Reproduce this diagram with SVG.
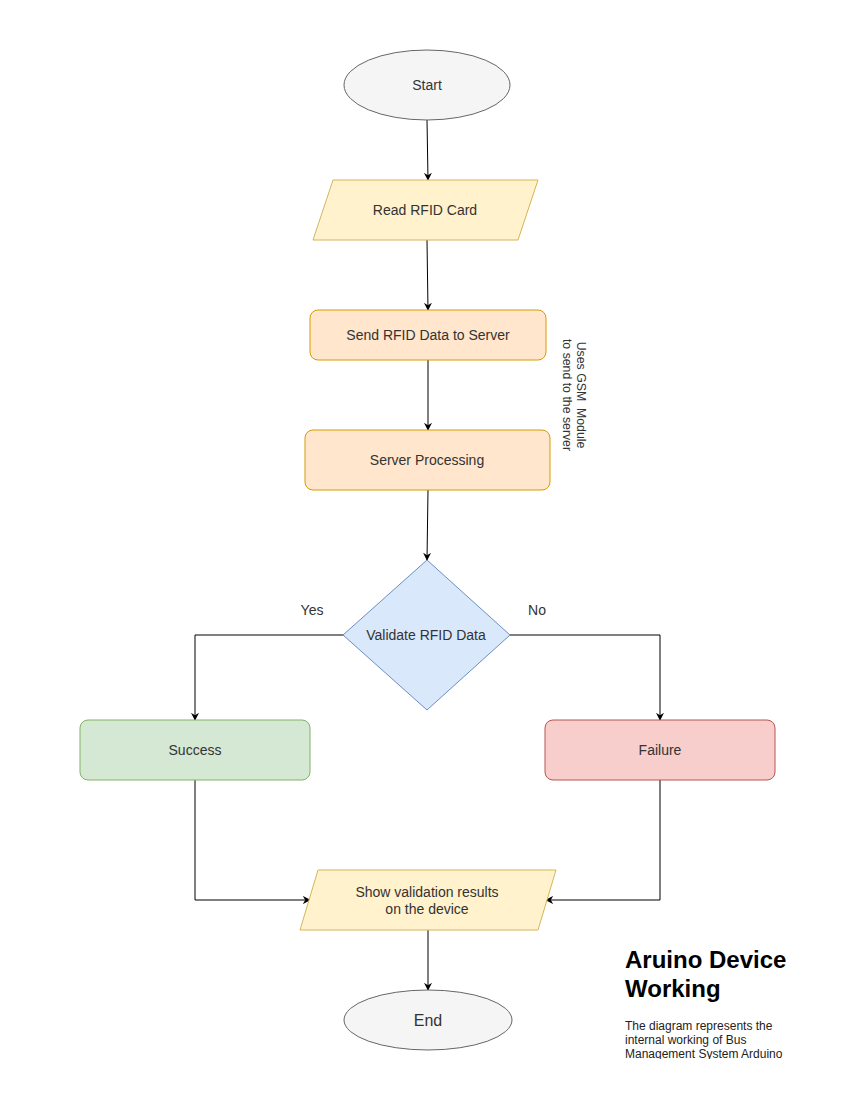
<svg xmlns="http://www.w3.org/2000/svg" width="850" height="1100" viewBox="0 0 850 1100">
<defs>
<marker id="arr" viewBox="0 0 10 10" refX="9" refY="5" markerWidth="8" markerHeight="8" markerUnits="userSpaceOnUse" orient="auto">
<path d="M0,0 L10,5 L0,10 L3,5 Z" fill="#000"/>
</marker>
<clipPath id="descClip"><rect x="620" y="1015" width="220" height="44"/></clipPath>
</defs>
<style>
text{font-family:"Liberation Sans",Arial,sans-serif;fill:#333;}
.lbl{font-size:14px;text-anchor:middle;dominant-baseline:central;}
.term{fill:#f5f5f5;stroke:#666;stroke-width:1;}
.io{fill:#fff2cc;stroke:#d6b656;stroke-width:1;}
.proc{fill:#ffe6cc;stroke:#d79b00;stroke-width:1;}
.dec{fill:#dae8fc;stroke:#6c8ebf;stroke-width:1;}
.ok{fill:#d5e8d4;stroke:#82b366;stroke-width:1;}
.bad{fill:#f8cecc;stroke:#b85450;stroke-width:1;}
.edge{fill:none;stroke:#000;stroke-width:1;marker-end:url(#arr);}
</style>
<rect width="850" height="1100" fill="#fff"/>
<g id="connectors">
<path class="edge" d="M427,120 L428,180"/>
<path class="edge" d="M427,240 L428,310"/>
<path class="edge" d="M428,360 L428,430"/>
<path class="edge" d="M428,490 L427,560"/>
<path class="edge" d="M343,635 L195,635 L195,720"/>
<path class="edge" d="M510,635 L660,635 L660,720"/>
<path class="edge" d="M195,780 L195,900 L310,900"/>
<path class="edge" d="M660,780 L660,900 L546,900"/>
<path class="edge" d="M428,930 L428,990"/>
</g>
<g id="start">
<ellipse class="term" cx="427" cy="85" rx="83" ry="35"/>
<text class="lbl" x="427" y="85">Start</text>
</g>
<g id="read">
<polygon class="io" points="333,180 538,180 518,240 313,240"/>
<text class="lbl" x="425" y="210">Read RFID Card</text>
</g>
<g id="send">
<rect class="proc" x="310" y="310" width="236" height="50" rx="8"/>
<text class="lbl" x="428" y="335">Send RFID Data to Server</text>
</g>
<g id="note">
<text font-size="12.3px" transform="translate(581,395) rotate(90)" text-anchor="middle" dominant-baseline="central" xml:space="preserve">Uses GSM  Module</text>
<text font-size="12.3px" transform="translate(567,395) rotate(90)" text-anchor="middle" dominant-baseline="central">to send to the server</text>
</g>
<g id="server">
<rect class="proc" x="305" y="430" width="245" height="60" rx="8"/>
<text class="lbl" x="427" y="460">Server Processing</text>
</g>
<g id="validate">
<polygon class="dec" points="427,560 510,635 427,710 343,635"/>
<text class="lbl" x="426" y="635">Validate RFID Data</text>
</g>
<g id="yes"><text class="lbl" x="312" y="610">Yes</text></g>
<g id="no"><text class="lbl" x="537" y="610">No</text></g>
<g id="success">
<rect class="ok" x="80" y="720" width="230" height="60" rx="8"/>
<text class="lbl" x="195" y="750">Success</text>
</g>
<g id="failure">
<rect class="bad" x="545" y="720" width="230" height="60" rx="8"/>
<text class="lbl" x="660" y="750">Failure</text>
</g>
<g id="show">
<polygon class="io" points="318,870 556,870 538,930 300,930"/>
<text class="lbl" x="427" y="892">Show validation results</text>
<text class="lbl" x="427" y="909">on the device</text>
</g>
<g id="end">
<ellipse class="term" cx="428" cy="1020" rx="84" ry="30"/>
<text class="lbl" x="428" y="1020" style="font-size:16px">End</text>
</g>
<g id="title">
<text x="625" y="968" style="font-size:24px;font-weight:bold;fill:#000">Aruino Device</text>
<text x="625" y="997" style="font-size:24px;font-weight:bold;fill:#000">Working</text>
<g clip-path="url(#descClip)">
<text x="625" y="1030" style="font-size:12px;fill:#222">The diagram represents the</text>
<text x="625" y="1044" style="font-size:12px;fill:#222">internal working of Bus</text>
<text x="625" y="1058" style="font-size:12px;fill:#222">Management System Arduino</text>
</g>
</g>
</svg>
